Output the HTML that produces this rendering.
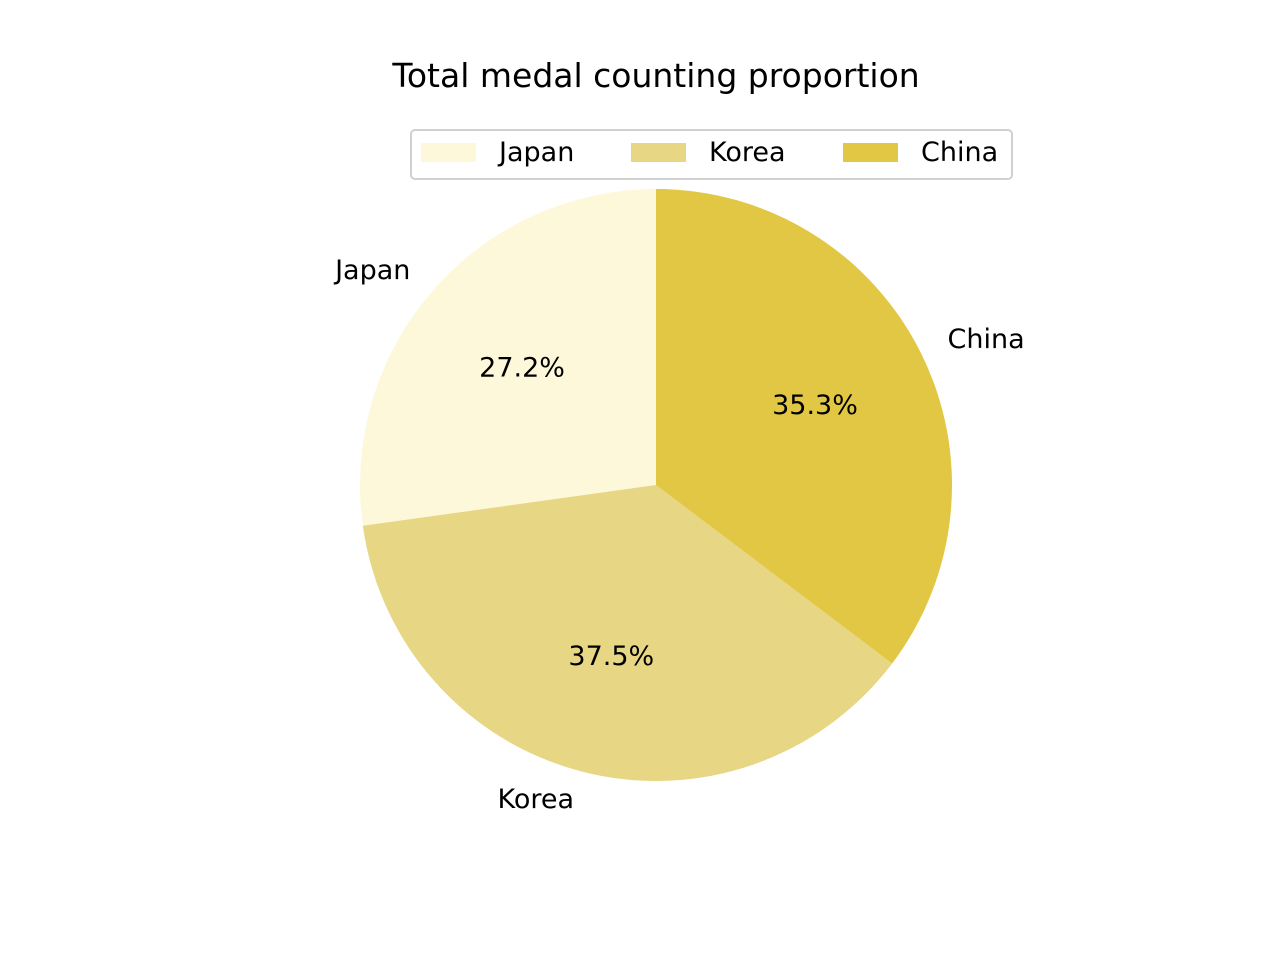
<!DOCTYPE html>
<html><head><meta charset="utf-8"><style>
html,body{margin:0;padding:0;background:#fff;}
svg{display:block;font-family:"DejaVu Sans","Liberation Sans",sans-serif;}
</style></head><body>
<svg id="chart" width="1280" height="960" viewBox="0 0 1280 960">
<text x="656" y="87" text-anchor="middle" font-size="33" fill="#000">Total medal counting proportion</text>
<g id="slices"></g>
<g id="legend">
<rect x="411" y="130" width="601" height="49" rx="4" fill="#fff" stroke="#d0d0d0" stroke-width="2"></rect>
</g>
</svg>
<script>
const categories = ["Japan", "Korea", "China"];
const values = [27.2, 37.5, 35.3];
const colors = ["#fef8da", "#e7d683", "#e1c743"];
const cx = 656, cy = 485, r = 296;
const ns = "http://www.w3.org/2000/svg";
const g = document.getElementById("slices");
const total = values.reduce((a, b) => a + b, 0);
let start = 90;
function pt(deg, rr) { const a = deg * Math.PI / 180; return [cx + rr * Math.cos(a), cy - rr * Math.sin(a)]; }
values.forEach((v, i) => {
  const sweep = v / total * 360;
  const end = start + sweep;
  const p1 = pt(start, r), p2 = pt(end, r);
  const path = document.createElementNS(ns, "path");
  path.setAttribute("d", `M${cx},${cy} L${p1[0]},${p1[1]} A${r},${r} 0 ${sweep > 180 ? 1 : 0} 0 ${p2[0]},${p2[1]} Z`);
  path.setAttribute("fill", colors[i]);
  
  
  g.appendChild(path);
  const mid = start + sweep / 2;
  const lp = pt(mid, r * 1.1);
  const lbl = document.createElementNS(ns, "text");
  lbl.setAttribute("x", lp[0]); lbl.setAttribute("y", lp[1] + 8);
  lbl.setAttribute("font-size", "27");
  lbl.setAttribute("text-anchor", Math.cos(mid * Math.PI / 180) >= 0 ? "start" : "end");
  lbl.textContent = categories[i];
  
  
  g.appendChild(lbl);
  const pp = pt(mid, r * 0.6);
  const pct = document.createElementNS(ns, "text");
  pct.setAttribute("x", pp[0]); pct.setAttribute("y", pp[1] + 8);
  pct.setAttribute("font-size", "27");
  pct.setAttribute("text-anchor", "middle");
  pct.textContent = (v / total * 100).toFixed(1) + "%";
  
  
  g.appendChild(pct);
  start = end;
});
const leg = document.getElementById("legend");
const lx = [421, 631, 843];
categories.forEach((c, i) => {
  const rect = document.createElementNS(ns, "rect");
  rect.setAttribute("x", lx[i]); rect.setAttribute("y", 143);
  rect.setAttribute("width", 55); rect.setAttribute("height", 19);
  rect.setAttribute("fill", colors[i]);
  
  
  leg.appendChild(rect);
  const t = document.createElementNS(ns, "text");
  t.setAttribute("x", lx[i] + 78); t.setAttribute("y", 161);
  t.setAttribute("font-size", "27");
  t.textContent = c;
  
  
  leg.appendChild(t);
});
</script>
</body></html>
